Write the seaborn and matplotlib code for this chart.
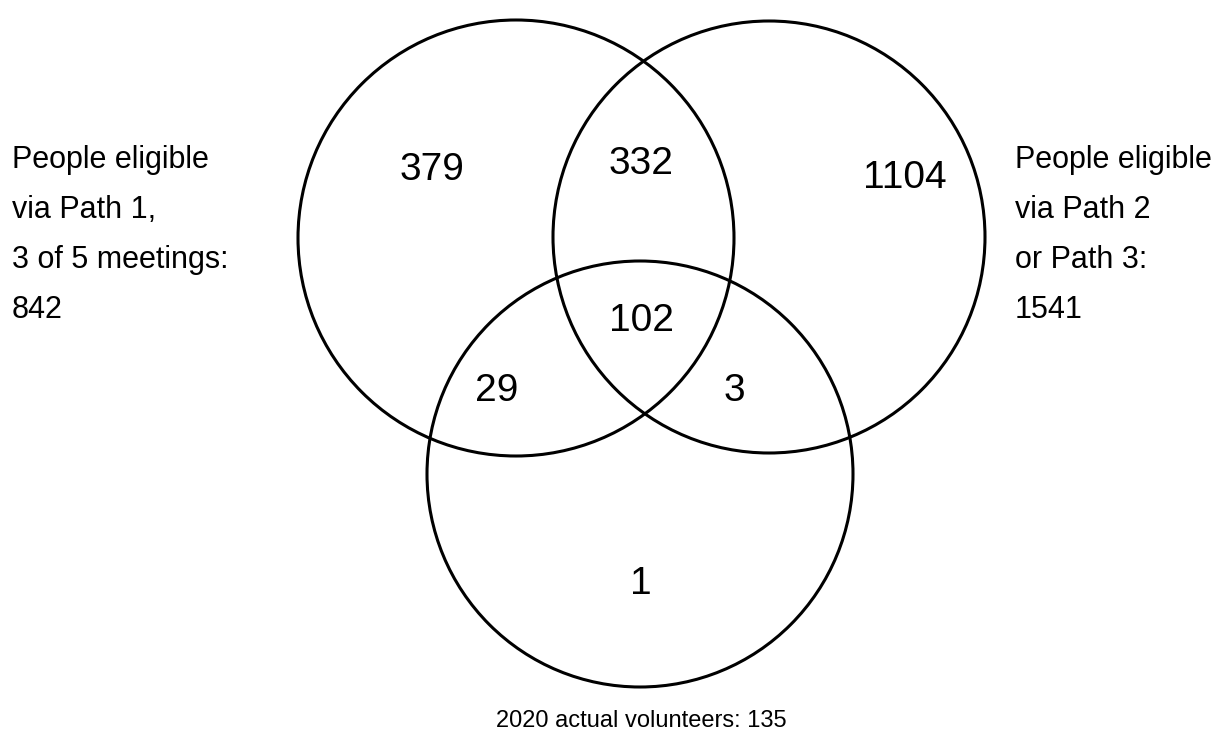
import matplotlib
matplotlib.use("Agg")
import matplotlib.pyplot as plt
from matplotlib.patches import Circle
import seaborn as sns

# region counts of the three-set Venn diagram
region_names = ["only_p1", "p1_p23", "only_p23", "all_three", "p1_vol", "p23_vol", "only_vol"]
region_counts = [379, 332, 1104, 102, 29, 3, 1]

# set labels
left_label = ["People eligible", "via Path 1,", "3 of 5 meetings:", "842"]
right_label = ["People eligible", "via Path 2", "or Path 3:", "1541"]
bottom_label = "2020 actual volunteers: 135"

sns.set_theme(style="white")
plt.rcParams["font.family"] = ["Liberation Sans", "DejaVu Sans"]

W, H = 1223, 746
fig = plt.figure(figsize=(W / 100, H / 100), dpi=100)
ax = fig.add_axes([0, 0, 1, 1])
ax.set_xlim(0, W)
ax.set_ylim(H, 0)
ax.set_aspect("equal")
ax.axis("off")

# circles (pixel layout)
circles = [((516, 238), 218), ((769, 237), 216), ((640, 474), 213)]
for (cx, cy), r in circles:
    ax.add_patch(Circle((cx, cy), r, fill=False, edgecolor="black", linewidth=2.2))

# label positions per region
region_pos = {
    "only_p1": (432, 170),
    "p1_p23": (641, 164),
    "only_p23": (905, 178),
    "all_three": (641, 321),
    "p1_vol": (497, 391),
    "p23_vol": (734, 391),
    "only_vol": (641, 584),
}
for name, count in zip(region_names, region_counts):
    x, y = region_pos[name]
    ax.text(x, y, str(count), fontsize=28, ha="center", va="center", color="black")

line_y = [160, 210, 260, 310]
for txt, y in zip(left_label, line_y):
    ax.text(12, y, txt, fontsize=22, ha="left", va="center", color="black")
for txt, y in zip(right_label, line_y):
    ax.text(1015, y, txt, fontsize=22, ha="left", va="center", color="black")
ax.text(641, 721, bottom_label, fontsize=17, ha="center", va="center", color="black")

fig.savefig("out.png", dpi=100, facecolor="white")
plt.close(fig)
